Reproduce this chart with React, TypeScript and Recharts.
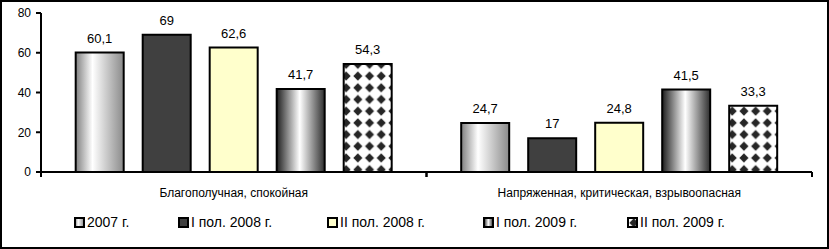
import { BarChart, Bar, XAxis, YAxis, Legend, LabelList } from 'recharts';

const categories = ['Благополучная, спокойная', 'Напряженная, критическая, взрывоопасная'];
const seriesNames = ['2007 г.', 'I пол. 2008 г.', 'II пол. 2008 г.', 'I пол. 2009 г.', 'II пол. 2009 г.'];
const values2007 = [60.1, 24.7];
const valuesH1_2008 = [69, 17];
const valuesH2_2008 = [62.6, 24.8];
const valuesH1_2009 = [41.7, 41.5];
const valuesH2_2009 = [54.3, 33.3];
const yTicks = [0, 20, 40, 60, 80];

const W = 829;
const H = 249;
const FONT = '"Liberation Sans", Arial, sans-serif';
const MARGIN = { top: 13, right: 17, left: 0, bottom: 14 };
const Y_AXIS_W = 41;
const HALF_BAND = (W - MARGIN.left - MARGIN.right - Y_AXIS_W) / categories.length / 2;
const LEGEND_ITEM_W = [104, 149, 156, 144, 140];

const keys = ['s0', 's1', 's2', 's3', 's4'];
const fills = ['url(#grad2007)', '#404040', '#FFFFCC', 'url(#grad2009)', 'url(#diamonds)'];

const data = categories.map((name, i) => ({
    name,
    s0: values2007[i],
    s1: valuesH1_2008[i],
    s2: valuesH2_2008[i],
    s3: valuesH1_2009[i],
    s4: valuesH2_2009[i],
}));

const fmt = (v: any) => String(v).replace('.', ',');

// category label centred, tick marks on the category boundaries
const CategoryTick = (props: any) => {
    const { x, y, payload } = props;
    const axisY = y - 5;
    return (
        <g>
            <line x1={x - HALF_BAND} x2={x - HALF_BAND} y1={axisY} y2={axisY + 5} stroke="#000" strokeWidth={2} />
            <line x1={x + HALF_BAND} x2={x + HALF_BAND} y1={axisY} y2={axisY + 5} stroke="#000" strokeWidth={2} />
            <text x={x} y={y + 20} textAnchor="middle" fontSize={12} fontFamily={FONT} fill="#000">
                {payload.value}
            </text>
        </g>
    );
};

const LegendBox = () => (
    <div style={{ display: 'flex', paddingLeft: 74, fontFamily: FONT, fontSize: 14, color: '#000', height: 26, alignItems: 'center' }}>
        {seriesNames.map((n, i) => (
            <div key={n} style={{ display: 'flex', alignItems: 'center', width: LEGEND_ITEM_W[i], flex: 'none' }}>
                <svg width={11} height={11} style={{ marginRight: 2 }}>
                    <rect x={1} y={1} width={9} height={9} fill={fills[i]} stroke="#000" strokeWidth={2} />
                </svg>
                <span>{n}</span>
            </div>
        ))}
    </div>
);

export default function App() {
    return (
        <div style={{ position: 'fixed', left: 0, top: 0, width: W, height: H, background: '#fff' }}>
            <BarChart width={W} height={H} data={data} margin={MARGIN} barCategoryGap="9%" barGap={19}>
                <defs>
                    <linearGradient id="grad2007" x1="0" y1="0" x2="1" y2="0">
                        <stop offset="0%" stopColor="#808080" />
                        <stop offset="35%" stopColor="#ffffff" />
                        <stop offset="100%" stopColor="#8a8a8a" />
                    </linearGradient>
                    <linearGradient id="grad2009" x1="0" y1="0" x2="1" y2="0">
                        <stop offset="0%" stopColor="#1e1e1e" />
                        <stop offset="48%" stopColor="#ffffff" />
                        <stop offset="100%" stopColor="#2e2e2e" />
                    </linearGradient>
                    <pattern id="diamonds" patternUnits="userSpaceOnUse" x={1} y={0} width={11.7} height={11.7}>
                        <rect width={11.7} height={11.7} fill="#fff" />
                        <polygon points="5.85,1.3 10.4,5.85 5.85,10.4 1.3,5.85" fill="#262626" />
                    </pattern>
                </defs>
                <XAxis
                    dataKey="name"
                    axisLine={{ stroke: '#000', strokeWidth: 2 }}
                    tickLine={false}
                    tickSize={5}
                    tickMargin={0}
                    height={37}
                    tick={<CategoryTick />}
                    interval={0}
                />
                <YAxis
                    width={Y_AXIS_W}
                    domain={[0, 80]}
                    ticks={yTicks}
                    axisLine={{ stroke: '#000', strokeWidth: 2 }}
                    tickLine={{ stroke: '#000', strokeWidth: 2 }}
                    tickSize={5}
                    tickMargin={5}
                    tick={{ fontSize: 12, fontFamily: FONT, fill: '#000' }}
                />
                <Legend verticalAlign="bottom" height={26} content={<LegendBox />} />
                {keys.map((k, i) => (
                    <Bar key={k} dataKey={k} name={seriesNames[i]} fill={fills[i]} stroke="#000" strokeWidth={2} isAnimationActive={false}>
                        <LabelList dataKey={k} position="top" offset={10} formatter={fmt} style={{ fontSize: 13, fontFamily: FONT, fill: '#000' }} />
                    </Bar>
                ))}
            </BarChart>
            <div style={{ position: 'absolute', left: 0, top: 0, width: W, height: H, boxSizing: 'border-box', border: '2px solid #000', pointerEvents: 'none' }} />
        </div>
    );
}
